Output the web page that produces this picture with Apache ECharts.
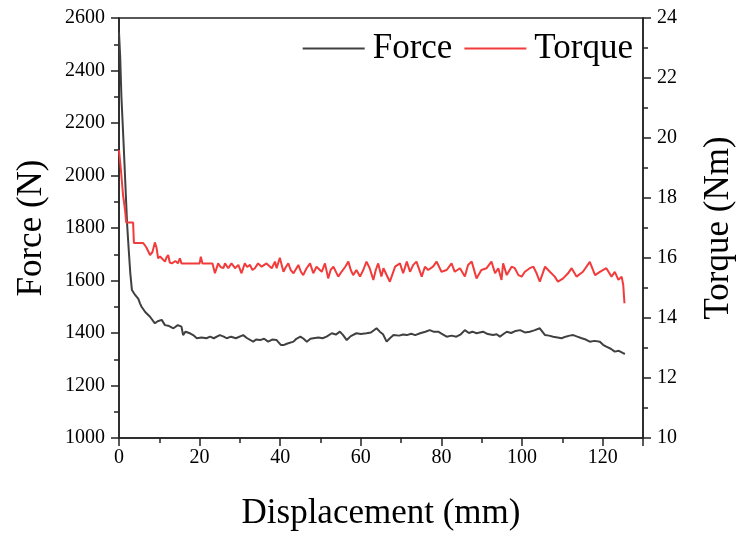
<!DOCTYPE html>
<html>
<head>
    <meta charset="utf-8">
    <title>Force / Torque</title>
    <style>
        *{ margin: 0; padding: 0; box-sizing: border-box; }
        html, body, #chart{ width: 738px; height: 534px; overflow: hidden; background: #fff; }
    </style>
</head>
<body>
    <div id="chart"></div>
    <script src="https://cdn.jsdelivr.net/npm/echarts@6/dist/echarts.min.js"></script>
    <script>
        // displacement (mm) / force (N)
        var forceDisp = [0, 0.3, 0.6, 1.1, 1.6, 2.0, 2.4, 2.8, 3.2, 4, 4.8, 5.2, 5.6, 6.5, 7.7, 8.9, 9.6, 10.6, 11.4, 12.2,
            13.5, 14.6, 15.5, 15.9, 16.5, 17.6, 18.4, 19.3, 20.5, 21.7, 22.6, 23.5, 25, 26, 26.7, 27.8, 29, 30.8, 31.8, 33.3,
            34, 35, 36, 37, 38, 39.1, 40.2, 40.8, 41.8, 43.3, 44, 45, 45.8, 46.6, 47.5, 48.2, 49.5, 50.5, 51.5, 52.8,
            53.8, 54.8, 55.6, 56.5, 57.5, 58.9, 60, 61.4, 62.5, 63.9, 64.7, 65.5, 66.4, 67.2, 68.1, 69.5, 70.5, 71.4, 72.5, 73.5,
            74.7, 76, 77.1, 78, 79.2, 80.2, 81.3, 82.5, 83.7, 84.8, 85.8, 86.8, 87.7, 88.7, 89.5, 90.3, 91.5, 92.8, 93.7, 94.5,
            95.3, 96.2, 97.3, 98.4, 99.5, 100.7, 101.9, 103, 104.4, 105.7, 106.7, 107.7, 108.8, 109.8, 110.8, 111.8, 112.7, 113.7, 114.8, 115.8,
            116.8, 118, 119.3, 120.1, 120.9, 122, 123, 124, 125.1, 125.5];
        var force = [2545, 2450, 2300, 2135, 1960, 1818, 1720, 1628, 1564, 1545, 1530, 1513, 1500, 1480, 1462, 1437, 1445, 1450, 1430, 1428,
            1418, 1430, 1424, 1392, 1405, 1399, 1392, 1380, 1383, 1380, 1386, 1380, 1392, 1386, 1380, 1386, 1380, 1392, 1380, 1367,
            1375, 1373, 1378, 1367, 1375, 1373, 1354, 1354, 1360, 1367, 1378, 1386, 1378, 1367, 1378, 1380, 1383, 1380, 1386, 1399,
            1394, 1405, 1392, 1373, 1388, 1399, 1396, 1399, 1402, 1418, 1405, 1395, 1367, 1380, 1392, 1390, 1394, 1392, 1397, 1392,
            1399, 1405, 1411, 1405, 1405, 1396, 1386, 1390, 1386, 1395, 1411, 1400, 1405, 1399, 1402, 1405, 1396, 1392, 1395, 1386,
            1395, 1405, 1400, 1408, 1411, 1402, 1405, 1410, 1418, 1392, 1390, 1386, 1383, 1380, 1386, 1390, 1392, 1386, 1380, 1375,
            1367, 1370, 1367, 1355, 1348, 1340, 1329, 1332, 1323, 1320];

        // displacement (mm) / torque (Nm)
        var torqueDisp = [0, 0.5, 1, 1.5, 1.8, 3.5, 3.7, 6, 6.8, 7.7, 8.3, 8.9, 9.3, 9.7, 10.2, 10.6, 11.4, 11.8, 12.2, 12.6,
            13.1, 14, 14.6, 15.1, 15.5, 20, 20.3, 20.7, 23.2, 23.8, 24.6, 25.2, 25.9, 26.3, 27.1, 27.9, 28.8, 29.6, 30.4, 31.2,
            31.8, 32.5, 33.1, 33.7, 34.5, 35.4, 36.6, 37.9, 38.7, 39.1, 39.9, 40.8, 41.4, 42, 42.6, 43.3, 44.5, 45.1, 45.7, 46.5,
            47.4, 48.2, 49, 50.3, 51.1, 51.9, 52.5, 53.2, 54.4, 55.2, 56.1, 56.9, 57.5, 58.1, 58.9, 59.8, 60.6, 61.4, 62.2, 63.1,
            63.7, 64.3, 65.1, 65.6, 67.2, 68.5, 69.7, 70.5, 71.4, 72.2, 73, 73.8, 75.1, 75.9, 76.7, 77.9, 78.8, 80, 81.3, 82.5,
            83.3, 84.6, 85.8, 86.6, 87.5, 88.7, 89.9, 91.2, 92.4, 93.3, 94.1, 94.9, 95.3, 96.2, 97.4, 98.2, 99.1, 99.9, 100.7, 101.9,
            102.8, 103.6, 104.4, 105.7, 106.9, 108.1, 108.9, 110.2, 111.4, 112.3, 113.5, 115.1, 116.8, 118.1, 119.3, 120.9, 122.2, 123, 123.9, 124.7,
            125.1, 125.4];
        var torque = [19.6, 18.9, 18.1, 17.6, 17.18, 17.18, 16.5, 16.5, 16.35, 16.1, 16.2, 16.52, 16.35, 15.99, 16.05, 16.1, 15.88, 16.02, 16.1, 15.85,
            15.82, 15.9, 15.82, 15.99, 15.82, 15.82, 16.04, 15.82, 15.82, 15.49, 15.82, 15.7, 15.66, 15.82, 15.66, 15.82, 15.66, 15.77, 15.49, 15.82,
            15.7, 15.77, 15.6, 15.66, 15.82, 15.71, 15.82, 15.66, 15.88, 15.66, 16.01, 15.54, 15.7, 15.82, 15.6, 15.49, 15.77, 15.55, 15.43, 15.65,
            15.82, 15.49, 15.71, 15.54, 15.82, 15.32, 15.6, 15.71, 15.38, 15.54, 15.7, 15.88, 15.6, 15.43, 15.6, 15.38, 15.6, 15.88, 15.66, 15.27,
            15.6, 15.82, 15.38, 15.66, 15.21, 15.71, 15.82, 15.49, 15.88, 15.54, 15.77, 15.88, 15.38, 15.71, 15.6, 15.71, 15.88, 15.54, 15.6, 15.82,
            15.54, 15.66, 15.38, 15.77, 15.88, 15.32, 15.6, 15.66, 15.88, 15.49, 15.66, 15.27, 15.82, 15.43, 15.71, 15.66, 15.43, 15.38, 15.54, 15.66,
            15.71, 15.49, 15.21, 15.71, 15.54, 15.38, 15.21, 15.32, 15.49, 15.66, 15.38, 15.54, 15.87, 15.43, 15.54, 15.66, 15.38, 15.54, 15.27, 15.38,
            15.1, 14.49];

        function pairs(xs, ys) {
            return xs.map(function (x, i) { return [x, ys[i]]; });
        }

        var serif = 'Liberation Serif';
        var axisColor = '#222';

        function valueAxis(extra) {
            var base = {
                type: 'value',
                splitLine: { show: false },
                axisLine: { show: true, onZero: false, lineStyle: { color: axisColor, width: 1.5 } },
                axisTick: { show: true, inside: false, length: 8, lineStyle: { color: axisColor, width: 1.5 } },
                minorTick: { show: true, splitNumber: 2, length: 5, lineStyle: { color: axisColor, width: 1.5 } },
                axisLabel: {
                    color: '#000', fontFamily: serif, fontSize: 20, margin: 14,
                    formatter: function (v) { return String(v); }
                },
                nameTextStyle: { color: '#000', fontFamily: serif, fontSize: 35 }
            };
            return Object.assign(base, extra);
        }

        var chart = echarts.init(document.getElementById('chart'));

        chart.setOption({
            animation: false,
            backgroundColor: '#fff',
            grid: {
                left: 119, right: 95, top: 18, bottom: 96,
                outerBoundsMode: 'none', containLabel: false,
                show: true, borderColor: axisColor, borderWidth: 1.5
            },
            legend: {
                right: 100, top: 26,
                icon: 'rect',
                itemWidth: 62, itemHeight: 2, itemGap: 12,
                textStyle: { color: '#000', fontFamily: serif, fontSize: 35, padding: [0, 0, 0, 3] },
                data: ['Force', 'Torque']
            },
            xAxis: valueAxis({
                min: 0, max: 130, interval: 20,
                name: 'Displacement (mm)', nameLocation: 'middle', nameGap: 58,
                axisLabel: {
                    color: '#000', fontFamily: serif, fontSize: 20, margin: 10,
                    showMaxLabel: false,
                    formatter: function (v) { return v > 120 ? '' : String(v); }
                }
            }),
            yAxis: [
                valueAxis({
                    min: 1000, max: 2600, interval: 200,
                    name: 'Force (N)', nameLocation: 'middle', nameGap: 70
                }),
                valueAxis({
                    position: 'right',
                    min: 10, max: 24, interval: 2,
                    name: 'Torque (Nm)', nameLocation: 'middle', nameGap: 58
                })
            ],
            series: [
                {
                    name: 'Force', type: 'line', yAxisIndex: 0,
                    showSymbol: false, symbol: 'none',
                    color: '#404040',
                    lineStyle: { width: 2, color: '#404040' },
                    data: pairs(forceDisp, force)
                },
                {
                    name: 'Torque', type: 'line', yAxisIndex: 1,
                    showSymbol: false, symbol: 'none',
                    color: '#f23b3b',
                    lineStyle: { width: 2, color: '#f23b3b' },
                    data: pairs(torqueDisp, torque)
                }
            ]
        });
    </script>
</body>
</html>
